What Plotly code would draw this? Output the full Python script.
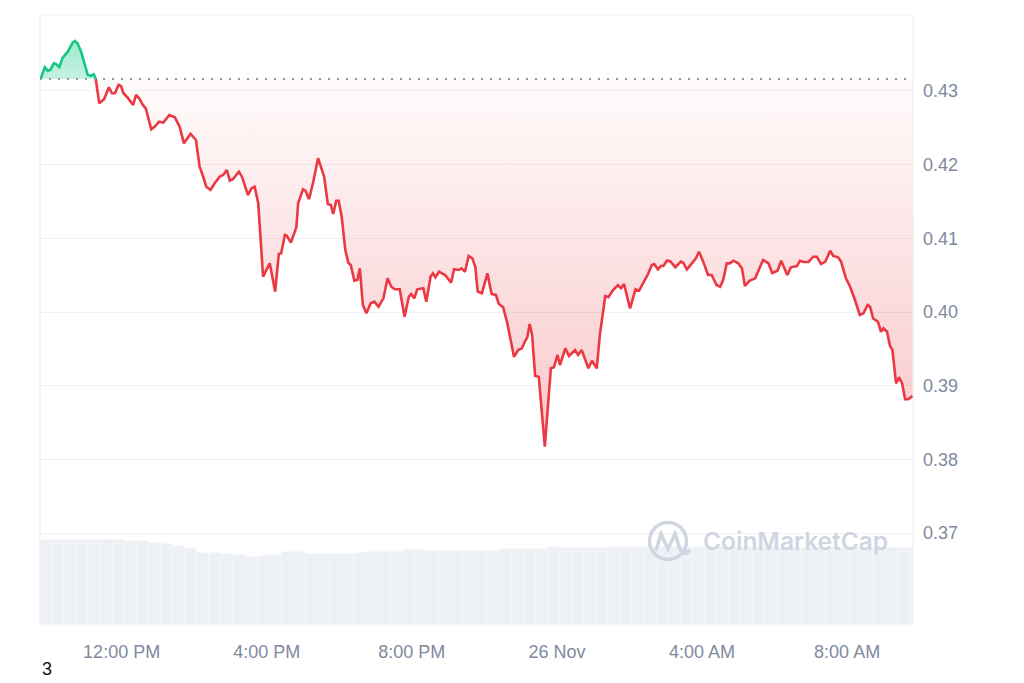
import plotly.graph_objects as go
import pandas as pd

# ---------------- data ----------------
START = pd.Timestamp("2024-11-25 09:45")
END = START + pd.Timedelta(minutes=1444)
BASE_PRICE = 0.43163  # open price (dotted reference line)

# minutes after START for each price sample
minutes = [1, 8, 13, 17, 23, 27, 32, 37, 46, 54, 58, 62, 68, 73, 79, 84, 89, 92,
           95, 98, 106, 114, 119, 124, 130, 134, 138, 145, 154, 159, 164, 170, 175,
           184, 190, 197, 204, 208, 214, 223, 231, 238, 249, 258, 264, 269, 275, 282,
           288, 297, 303, 309, 314, 319, 329, 334, 344, 350, 355, 361, 369, 380, 389,
           395, 399, 405, 408, 415, 424, 427, 435, 439, 445, 452, 460, 470, 476, 481,
           485, 490, 494, 499, 505, 510, 514, 520, 525, 529, 534, 540, 547, 553, 560,
           568, 575, 581, 587, 595, 603, 610, 614, 619, 624, 634, 639, 646, 650, 654,
           660, 670, 680, 685, 693, 697, 703, 709, 715, 720, 724, 731, 740, 747, 754,
           759, 766, 773, 784, 791, 797, 802, 806, 810, 814, 819, 825, 835, 845, 850,
           856, 860, 869, 875, 885, 890, 896, 901, 907, 913, 921, 926, 935, 940, 948,
           956, 961, 966, 976, 985, 991, 998, 1005, 1012, 1016, 1022, 1027, 1031, 1037,
           1042, 1051, 1060, 1064, 1070, 1077, 1085, 1090, 1097, 1105, 1111, 1119, 1125,
           1130, 1136, 1141, 1147, 1155, 1161, 1166, 1174, 1183, 1196, 1205, 1211, 1220,
           1226, 1236, 1242, 1252, 1257, 1263, 1271, 1279, 1285, 1292, 1299, 1307, 1312,
           1320, 1325, 1333, 1340, 1348, 1356, 1362, 1369, 1373, 1378, 1386, 1391, 1395,
           1401, 1406, 1410, 1416, 1421, 1426, 1431, 1436, 1443]

prices = [0.43163, 0.43322, 0.43275, 0.43285, 0.43376, 0.43362, 0.43322, 0.43444, 0.43533,
          0.43655, 0.43678, 0.43647, 0.43533, 0.43376, 0.43217, 0.43204, 0.43227, 0.43172,
          0.43014, 0.42833, 0.42887, 0.43050, 0.42969, 0.42969, 0.43081, 0.43068, 0.42969,
          0.42909, 0.42810, 0.42946, 0.42901, 0.42810, 0.42765, 0.42480, 0.42516, 0.42583,
          0.42570, 0.42616, 0.42674, 0.42643, 0.42516, 0.42290, 0.42417, 0.42335, 0.41973,
          0.41860, 0.41701, 0.41657, 0.41738, 0.41837, 0.41860, 0.41928, 0.41783, 0.41802,
          0.41905, 0.41837, 0.41589, 0.41680, 0.41701, 0.41476, 0.40480, 0.40662, 0.40277,
          0.40788, 0.40798, 0.41046, 0.41037, 0.40942, 0.41150, 0.41476, 0.41666, 0.41647,
          0.41530, 0.41769, 0.42087, 0.41837, 0.41467, 0.41453, 0.41331, 0.41511, 0.41511,
          0.41294, 0.40842, 0.40670, 0.40639, 0.40426, 0.40435, 0.40594, 0.40096, 0.39983,
          0.40119, 0.40141, 0.40073, 0.40187, 0.40458, 0.40344, 0.40309, 0.40309, 0.39937,
          0.40208, 0.40245, 0.40187, 0.40309, 0.40323, 0.40141, 0.40480, 0.40526, 0.40472,
          0.40548, 0.40503, 0.40399, 0.40581, 0.40571, 0.40594, 0.40548, 0.40761, 0.40730,
          0.40616, 0.40277, 0.40255, 0.40526, 0.40245, 0.40232, 0.40110, 0.40065, 0.39848,
          0.39394, 0.39485, 0.39508, 0.39598, 0.39658, 0.39838, 0.39689, 0.39133, 0.39123,
          0.38173, 0.39237, 0.39251, 0.39418, 0.39282, 0.39508, 0.39404, 0.39485, 0.39418,
          0.39485, 0.39373, 0.39237, 0.39340, 0.39237, 0.39689, 0.40218, 0.40201, 0.40300,
          0.40367, 0.40323, 0.40381, 0.40051, 0.40309, 0.40290, 0.40399, 0.40503, 0.40639,
          0.40652, 0.40580, 0.40625, 0.40625, 0.40697, 0.40693, 0.40608, 0.40684, 0.40670,
          0.40580, 0.40652, 0.40729, 0.40819, 0.40684, 0.40503, 0.40503, 0.40367, 0.40344,
          0.40435, 0.40661, 0.40661, 0.40697, 0.40661, 0.40594, 0.40354, 0.40426, 0.40458,
          0.40707, 0.40661, 0.40530, 0.40562, 0.40697, 0.40503, 0.40607, 0.40625, 0.40697,
          0.40680, 0.40680, 0.40751, 0.40751, 0.40652, 0.40684, 0.40833, 0.40761, 0.40743,
          0.40684, 0.40458, 0.40344, 0.40164, 0.39960, 0.39983, 0.40096, 0.40073, 0.39915,
          0.39869, 0.39733, 0.39780, 0.39733, 0.39539, 0.39485, 0.39033, 0.39115, 0.39033,
          0.38817, 0.38817, 0.38861]

# volume bars (20-minute buckets), millions USD
volume_minutes = list(range(0, 1460, 20))
volumes = [139.3, 139.3, 139.3, 139.3, 139.3, 139.3, 139.3, 137.7, 137.7, 134.9,
           133.5, 130.0, 124.1, 117.5, 117.5, 116.0, 114.8, 112.0, 112.5, 114.8,
           119.7, 119.7, 116.9, 116.9, 116.9, 116.9, 118.0, 119.2, 119.2, 120.5,
           122.5, 122.5, 121.8, 121.8, 121.8, 121.8, 121.8, 121.8, 124.1, 124.1,
           124.1, 124.1, 128.4, 125.7, 125.7, 125.7, 127.0, 128.4, 128.4, 128.4,
           128.4, 128.4, 128.4, 128.4, 128.4, 128.4, 128.4, 128.4, 128.4, 128.4,
           128.4, 125.7, 125.7, 125.7, 125.7, 125.7, 125.7, 125.7, 125.7, 125.7,
           125.7, 125.7, 125.7]

tick_times = ["2024-11-25 12:00", "2024-11-25 16:00", "2024-11-25 20:00",
              "2024-11-26 00:00", "2024-11-26 04:00", "2024-11-26 08:00"]
tick_labels = ["12:00 PM", "4:00 PM", "8:00 PM", "26 Nov", "4:00 AM", "8:00 AM"]
price_ticks = [0.37, 0.38, 0.39, 0.40, 0.41, 0.42, 0.43]
price_tick_labels = ["0.37", "0.38", "0.39", "0.40", "0.41", "0.42", "0.43"]

assert len(minutes) == len(prices)
assert len(volume_minutes) == len(volumes)

# ---------------- styling ----------------
GREEN = "#16c784"
RED = "#ea3943"
TEXT = "#808a9d"
GRID = "#eff2f5"
WM = "#cfd6e2"
FONT = "Liberation Sans, Arial, sans-serif"

# the page body adds an 8px offset; size the figure so the plot lands where the reference has it
PAGE_OFF = 8
W, H = 1024 - PAGE_OFF, 683 - PAGE_OFF
L, T = 40 - PAGE_OFF, 15 - PAGE_OFF
PW, PH = 873, 610
R = W - L - PW
B = H - T - PH


def px(x):  # page pixel -> paper fraction
    return (x - PAGE_OFF - L) / PW


def py(y):
    return (H - B - (y - PAGE_OFF)) / PH


times = [START + pd.Timedelta(minutes=m) for m in minutes]

# split into above/below base segments at the first crossing
k = next(i for i in range(1, len(prices)) if prices[i] < BASE_PRICE)
frac = (prices[k - 1] - BASE_PRICE) / (prices[k - 1] - prices[k])
t_cross = times[k - 1] + (times[k] - times[k - 1]) * frac

g_x = times[:k] + [t_cross]
g_y = prices[:k] + [BASE_PRICE]
r_x = [t_cross] + times[k:]
r_y = [BASE_PRICE] + prices[k:]

fig = go.Figure()

vol_x = [START + pd.Timedelta(minutes=m + 10) for m in volume_minutes]
fig.add_trace(go.Bar(x=vol_x, y=volumes, yaxis="y2", width=20 * 60 * 1000,
                     marker=dict(color="#edf0f4", line=dict(width=0.8, color="#f5f7f9")),
                     showlegend=False, hoverinfo="skip"))

# green segment
fig.add_trace(go.Scatter(x=[g_x[0], g_x[-1]], y=[BASE_PRICE, BASE_PRICE], mode="lines",
                         line=dict(width=0), showlegend=False, hoverinfo="skip"))
fig.add_trace(go.Scatter(x=g_x, y=g_y, mode="lines", fill="tonexty",
                         line=dict(color=GREEN, width=2.6),
                         fillgradient=dict(type="vertical", start=BASE_PRICE, stop=max(g_y),
                                           colorscale=[[0, "rgba(22,199,132,0.25)"],
                                                       [1, "rgba(22,199,132,0.40)"]]),
                         showlegend=False))
# red segment
fig.add_trace(go.Scatter(x=[r_x[0], r_x[-1]], y=[BASE_PRICE, BASE_PRICE], mode="lines",
                         line=dict(width=0), showlegend=False, hoverinfo="skip"))
fig.add_trace(go.Scatter(x=r_x, y=r_y, mode="lines", fill="tonexty",
                         line=dict(color=RED, width=2.6),
                         fillgradient=dict(type="vertical", start=min(r_y), stop=BASE_PRICE,
                                           colorscale=[[0, "rgba(234,57,67,0.28)"],
                                                       [1, "rgba(234,57,67,0.02)"]]),
                         showlegend=False))

shapes = [
    # dotted reference line
    dict(type="line", xref="paper", x0=0, x1=1, yref="y", y0=BASE_PRICE, y1=BASE_PRICE,
         line=dict(color="#8f98a8", width=2, dash="2px,7px"), layer="above"),
    # frame lines (top, left, right)
    dict(type="line", xref="paper", yref="paper", x0=0, x1=1, y0=1, y1=1,
         line=dict(color=GRID, width=1), layer="below"),
    dict(type="line", xref="paper", yref="paper", x0=0, x1=0, y0=0, y1=1,
         line=dict(color=GRID, width=1.5), layer="below"),
    dict(type="line", xref="paper", yref="paper", x0=1, x1=1, y0=0, y1=1,
         line=dict(color=GRID, width=1.5), layer="below"),
    # watermark logo
    dict(type="circle", xref="paper", yref="paper",
         x0=px(649.5), x1=px(686.5), y0=py(559.5), y1=py(522.5),
         line=dict(color=WM, width=3.5), layer="above"),
    dict(type="path", xref="paper", yref="paper",
         path="M {} {} L {} {} L {} {} L {} {} L {} {} Q {} {} {} {}".format(
             px(656), py(551), px(661), py(534), px(668), py(549), px(675), py(534),
             px(680), py(549), px(684), py(557), px(690), py(550)),
         line=dict(color=WM, width=3.5), layer="above"),
]

annotations = [
    dict(text="CoinMarketCap", xref="paper", yref="paper", x=px(701), y=py(541),
         xanchor="left", yanchor="middle", showarrow=False,
         font=dict(family="Inter, Open Sans, sans-serif", size=24.5, color=WM, weight=600)),
    dict(text="3", xref="paper", yref="paper", x=px(47), y=py(669),
         xanchor="center", yanchor="middle", showarrow=False,
         font=dict(family=FONT, size=18, color="#111111")),
]

fig.update_layout(
    width=W, height=H,
    margin=dict(l=L, r=R, t=T, b=B, pad=0),
    paper_bgcolor="white", plot_bgcolor="white",
    showlegend=False,
    bargap=0,
    font=dict(family=FONT, size=18, color=TEXT),
    xaxis=dict(type="date", range=[START, END], tickvals=tick_times, ticktext=tick_labels,
               showgrid=False, zeroline=False, showline=False, ticks="",
               ticklabelstandoff=14, tickfont=dict(size=18, color=TEXT, family=FONT)),
    yaxis=dict(side="right", range=[0.35754, 0.44031], tickvals=price_ticks,
               ticktext=price_tick_labels, showgrid=True, gridcolor=GRID, gridwidth=1,
               zeroline=False, showline=False, ticks="", ticklabelstandoff=9,
               tickfont=dict(size=18, color=TEXT, family=FONT)),
    yaxis2=dict(overlaying="y", range=[0, 1000], visible=False, showgrid=False),
    shapes=shapes,
    annotations=annotations,
)

fig.write_html("out.html")
